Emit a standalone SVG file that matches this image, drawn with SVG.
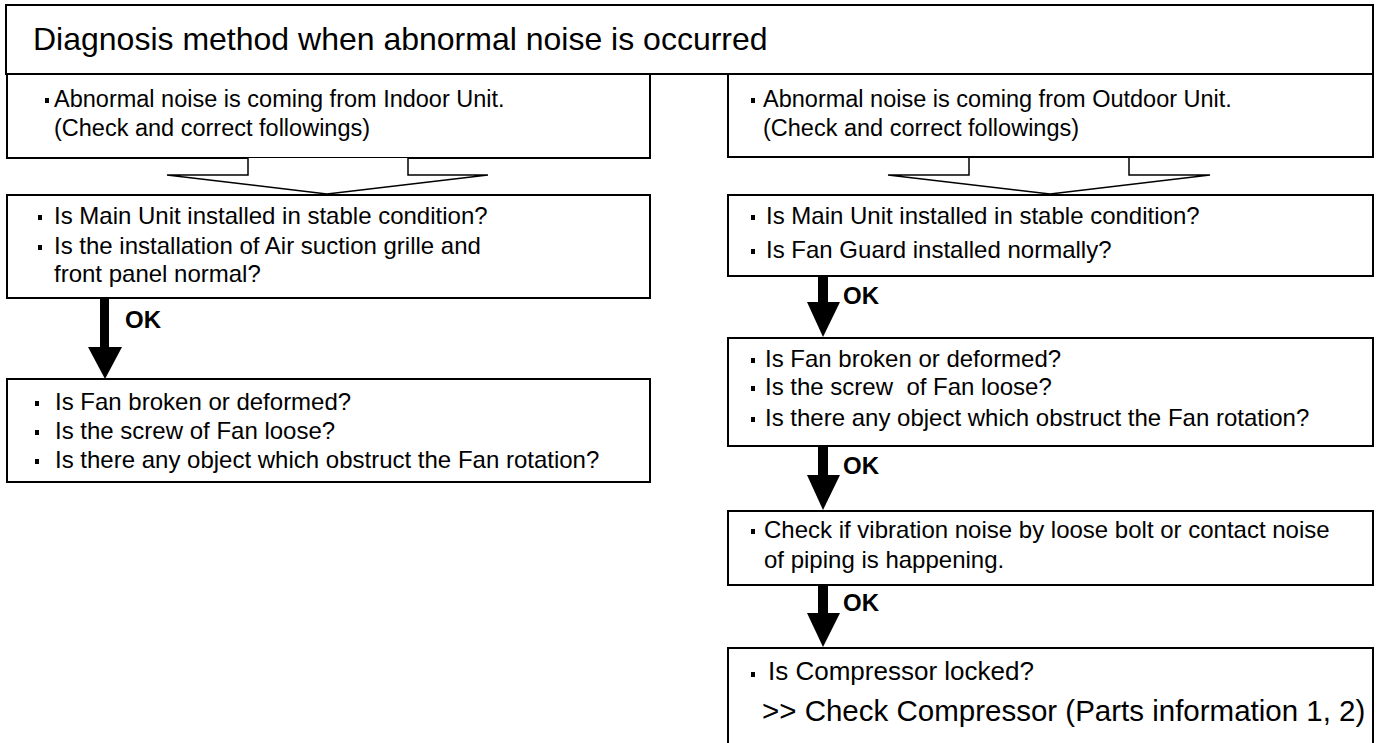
<svg xmlns="http://www.w3.org/2000/svg" width="1378" height="743" viewBox="0 0 1378 743">
<style>
.box{fill:#fff;stroke:#000;stroke-width:2}
.t{font-family:"Liberation Sans",Arial,sans-serif;font-size:24px;fill:#000}
.t0{font-family:"Liberation Sans",Arial,sans-serif;font-size:23.5px;fill:#000}
.title{font-family:"Liberation Sans",Arial,sans-serif;font-size:32px;fill:#000}
.big{font-family:"Liberation Sans",Arial,sans-serif;font-size:29.5px;fill:#000}
.mid{font-family:"Liberation Sans",Arial,sans-serif;font-size:26px;fill:#000}
.ok{font-family:"Liberation Sans",Arial,sans-serif;font-size:24px;font-weight:bold;fill:#000}
.hollow{fill:#fff;stroke:#000;stroke-width:1.5}
.solid{fill:#000;stroke:none}
.b{fill:#000}
</style>
<rect width="1378" height="743" fill="#fff"/>
<g id="title">
<rect class="box" x="6" y="5" width="1367" height="69"/>
<text class="title" x="33" y="50">Diagnosis method when abnormal noise is occurred</text>
</g>
<g id="indoor-start">
<rect class="box" x="7" y="74" width="643" height="84"/>
<rect class="b" x="45" y="98" width="4" height="5"/>
<text class="t0" x="54" y="107">Abnormal noise is coming from Indoor Unit.</text>
<text class="t0" x="54" y="136">(Check and correct followings)</text>
</g>
<g id="outdoor-start">
<rect class="box" x="728" y="74" width="645" height="83"/>
<rect class="b" x="751" y="98" width="4" height="5"/>
<text class="t0" x="763" y="107">Abnormal noise is coming from Outdoor Unit.</text>
<text class="t0" x="763" y="136">(Check and correct followings)</text>
</g>
<g id="indoor-check1">
<rect class="box" x="7" y="195" width="643" height="103"/>
<rect class="b" x="38" y="215" width="4" height="5"/>
<text class="t" x="54" y="224">Is Main Unit installed in stable condition?</text>
<rect class="b" x="38" y="245" width="4" height="5"/>
<text class="t" x="54" y="254">Is the installation of Air suction grille and</text>
<text class="t" x="54" y="282">front panel normal?</text>
</g>
<g id="indoor-check2">
<rect class="box" x="7" y="379" width="643" height="103"/>
<rect class="b" x="35" y="401" width="4" height="5"/>
<text class="t" x="55" y="410">Is Fan broken or deformed?</text>
<rect class="b" x="35" y="430" width="4" height="5"/>
<text class="t" x="55" y="439">Is the screw of Fan loose?</text>
<rect class="b" x="35" y="459" width="4" height="5"/>
<text class="t" x="55" y="468">Is there any object which obstruct the Fan rotation?</text>
</g>
<g id="outdoor-check1">
<rect class="box" x="728" y="195" width="645" height="81"/>
<rect class="b" x="751" y="215" width="4" height="5"/>
<text class="t" x="766" y="224">Is Main Unit installed in stable condition?</text>
<rect class="b" x="751" y="249" width="4" height="5"/>
<text class="t" x="766" y="258">Is Fan Guard installed normally?</text>
</g>
<g id="outdoor-check2">
<rect class="box" x="728" y="338" width="645" height="108"/>
<rect class="b" x="751" y="358" width="4" height="5"/>
<text class="t" x="765" y="367">Is Fan broken or deformed?</text>
<rect class="b" x="751" y="386" width="4" height="5"/>
<text class="t" x="765" y="395" xml:space="preserve">Is the screw  of Fan loose?</text>
<rect class="b" x="751" y="417" width="4" height="5"/>
<text class="t" x="765" y="426">Is there any object which obstruct the Fan rotation?</text>
</g>
<g id="outdoor-check3">
<rect class="box" x="728" y="511" width="645" height="74"/>
<rect class="b" x="751" y="529" width="4" height="5"/>
<text class="t" x="764" y="538">Check if vibration noise by loose bolt or contact noise</text>
<text class="t" x="764" y="568">of piping is happening.</text>
</g>
<g id="outdoor-check4">
<rect class="box" x="728" y="648" width="645" height="105"/>
<rect class="b" x="751" y="672" width="4" height="5"/>
<text class="mid" x="768" y="680">Is Compressor locked?</text>
<text class="big" x="762" y="721">&gt;&gt; Check Compressor (Parts information 1, 2)</text>
</g>
<g id="connectors">
<path class="hollow" d="M248,158 V175 H167 L327,194 L488,175 H408 V158"/>
<path class="hollow" d="M969,158 V175 H888 L1050,194 L1210,175 H1129 V158"/>
<rect class="solid" x="100" y="298" width="9" height="50"/>
<polygon class="solid" points="88,347 122,347 105,379"/>
<text class="ok" x="125" y="328">OK</text>
<rect class="solid" x="818" y="276" width="10" height="27"/>
<polygon class="solid" points="807,302 840,302 823,337"/>
<text class="ok" x="843" y="304">OK</text>
<rect class="solid" x="818" y="446" width="10" height="30"/>
<polygon class="solid" points="807,475 840,475 823,510"/>
<text class="ok" x="843" y="474">OK</text>
<rect class="solid" x="818" y="585" width="10" height="29"/>
<polygon class="solid" points="807,613 840,613 823,647"/>
<text class="ok" x="843" y="611">OK</text>
</g>
</svg>
